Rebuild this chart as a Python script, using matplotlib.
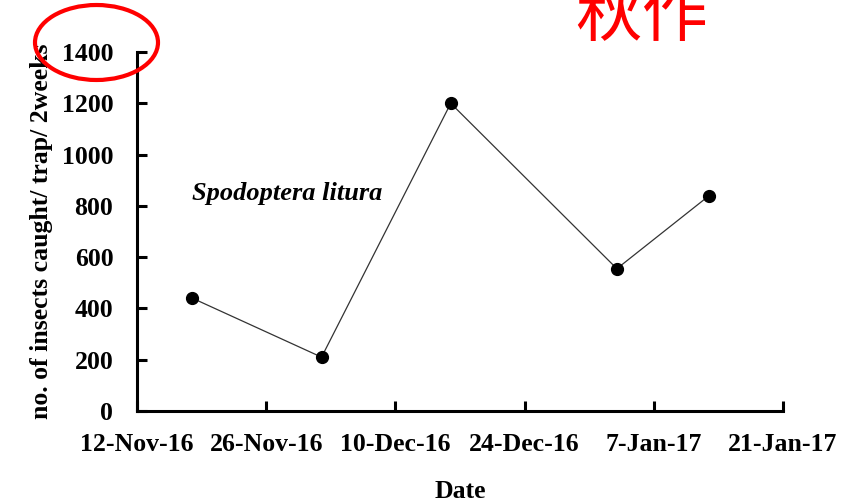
import matplotlib.pyplot as plt
from matplotlib.patches import Ellipse
import datetime as dt

# data
dates = [dt.date(2016, 11, 18), dt.date(2016, 12, 2), dt.date(2016, 12, 16),
         dt.date(2017, 1, 3), dt.date(2017, 1, 13)]
counts = [440, 210, 1200, 555, 840]
tick_dates = [dt.date(2016, 11, 12), dt.date(2016, 11, 26), dt.date(2016, 12, 10),
              dt.date(2016, 12, 24), dt.date(2017, 1, 7), dt.date(2017, 1, 21)]
tick_labels = ["12-Nov-16", "26-Nov-16", "10-Dec-16", "24-Dec-16", "7-Jan-17", "21-Jan-17"]
y_ticks = [0, 200, 400, 600, 800, 1000, 1200, 1400]

plt.rcParams['font.family'] = ['Liberation Serif', 'DejaVu Serif']

fig = plt.figure(figsize=(8.44, 5.04), dpi=100)
ax = fig.add_axes([0.1623, 0.1845, 0.9277 - 0.1623, 0.8968 - 0.1845])

ax.plot(dates, counts, color="#333333", lw=0.9, marker="o", markersize=8.5,
        markerfacecolor="black", markeredgecolor="black")

ax.set_xlim(tick_dates[0], tick_dates[-1])
ax.set_ylim(0, 1400)
ax.set_xticks(tick_dates)
ax.set_xticklabels(tick_labels)
ax.set_yticks(y_ticks)

for s in ["top", "right"]:
    ax.spines[s].set_visible(False)
for s in ["left", "bottom"]:
    ax.spines[s].set_linewidth(2.2)

ax.tick_params(axis="both", direction="in", length=7, width=2.2, labelsize=18.5)
ax.tick_params(axis="x", pad=16)
ax.tick_params(axis="y", pad=17)
for lab in ax.get_xticklabels() + ax.get_yticklabels():
    lab.set_fontweight("bold")

ax.set_xlabel("Date", fontsize=18.5, fontweight="bold", labelpad=17)
ax.set_ylabel("no. of insects caught/ trap/ 2weeks", fontsize=18.5, fontweight="bold", labelpad=6)

ax.text(dt.date(2016, 11, 18), 850, "Spodoptera litura", fontsize=19,
        fontweight="bold", fontstyle="italic", va="center", ha="left")

# red annotation
ell = Ellipse((96.5 / 844, 1 - 42.5 / 504), 123 / 844, 75 / 504,
              transform=fig.transFigure, fill=False, edgecolor="red", lw=3)
fig.add_artist(ell)
fig.text(0.760, 0.965, "秋作", fontsize=48, color="red", ha="center", va="center",
         family=["Noto Sans CJK TC", "DejaVu Sans"])

fig.savefig("out.png", dpi=100)
